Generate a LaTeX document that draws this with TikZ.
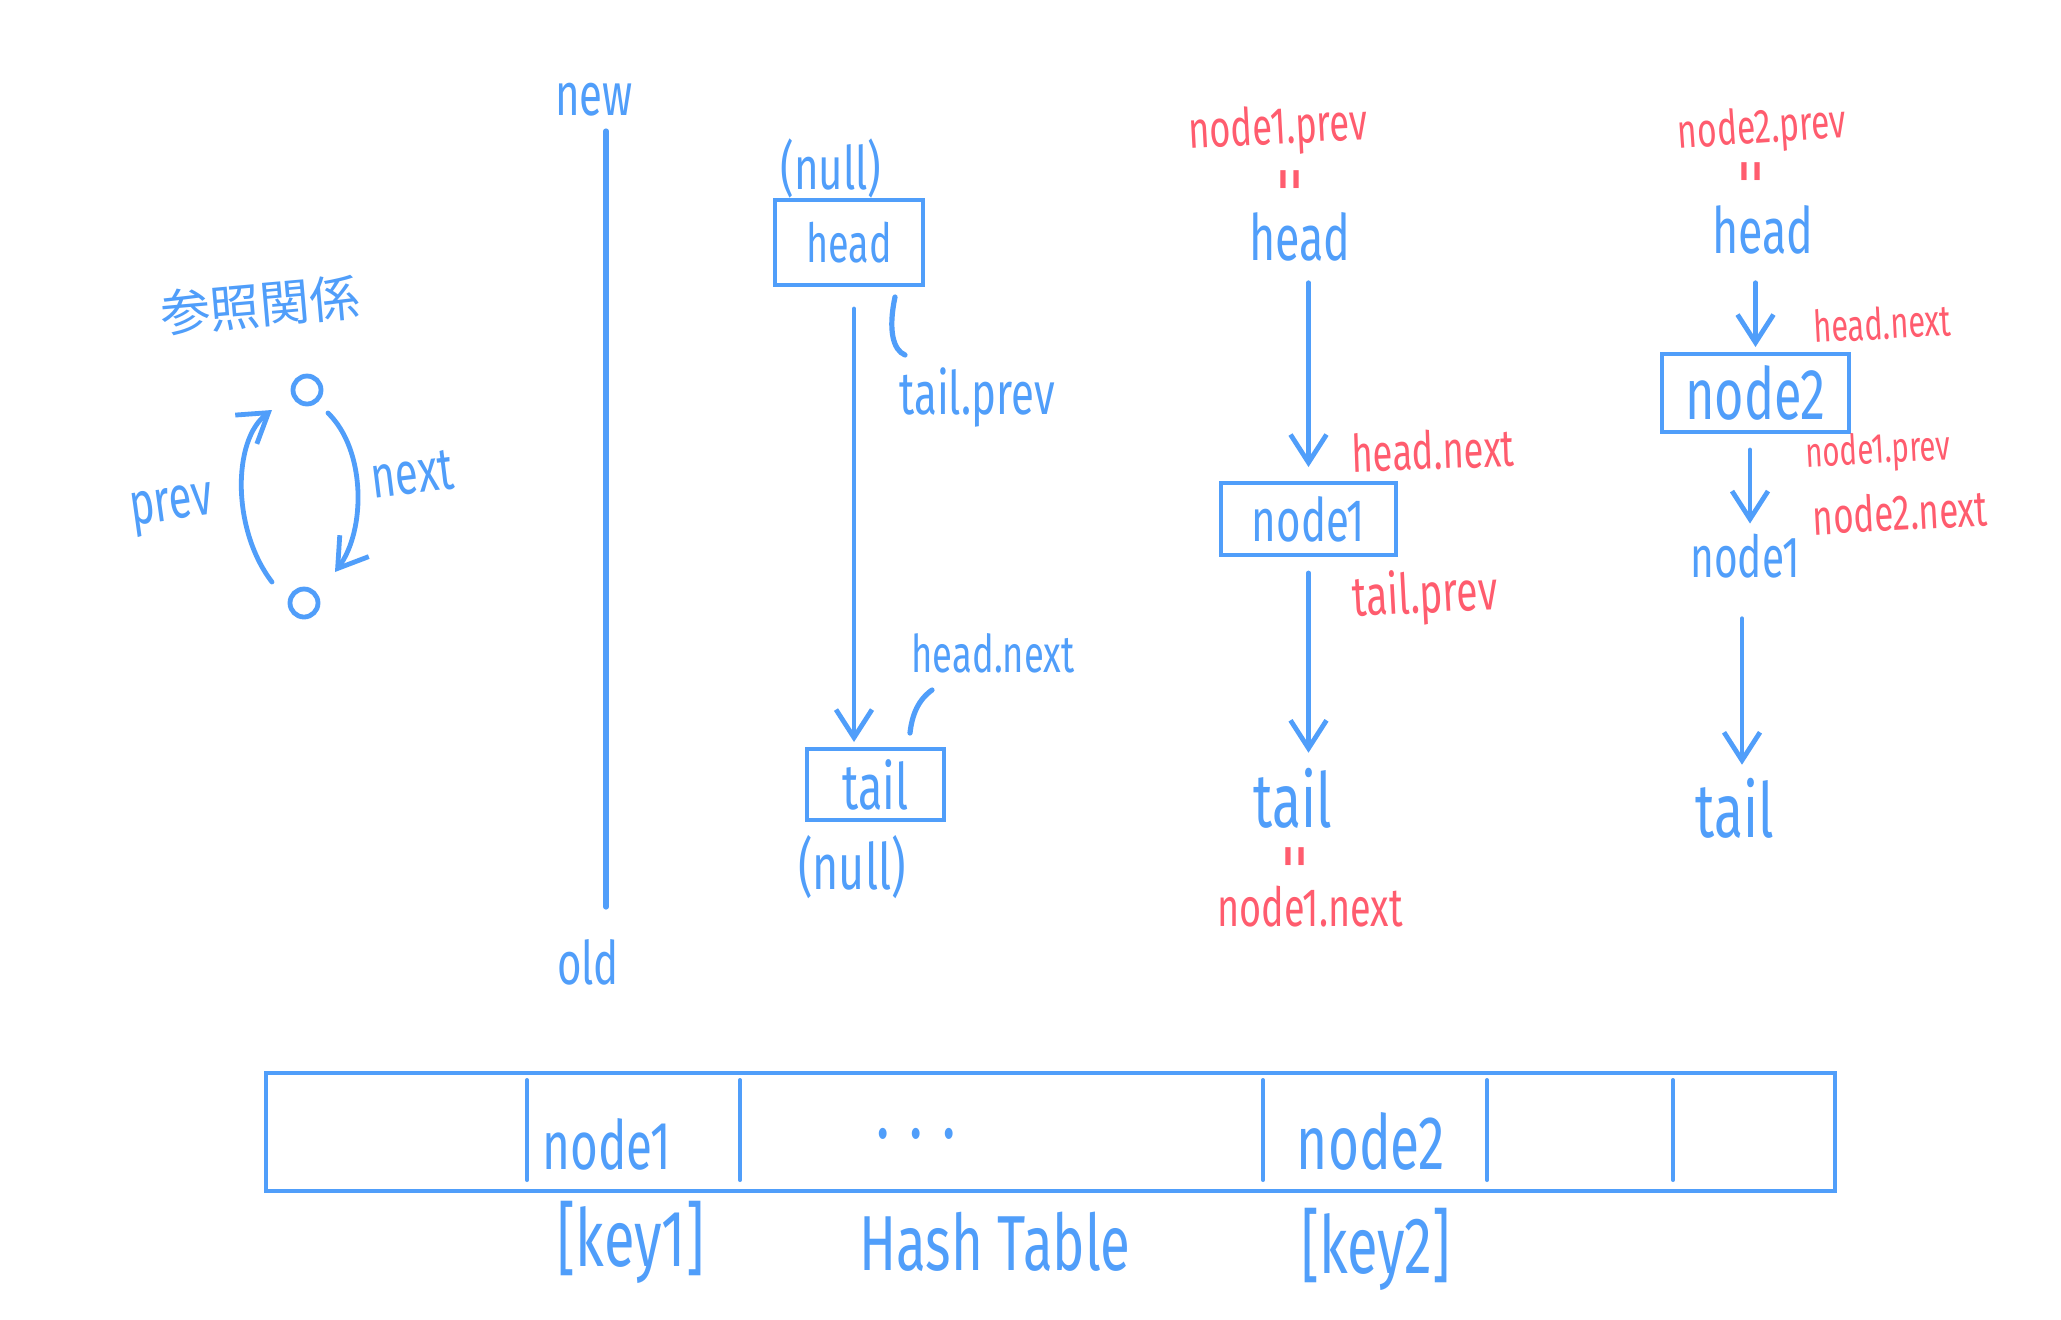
\documentclass[tikz,border=0pt]{standalone}
\usepackage{fontspec}
\usetikzlibrary{arrows.meta}
\newfontfamily\hand[FakeStretch=0.7]{Fira Sans}
\newfontfamily\jpfont{Noto Sans CJK JP}
\newcommand\myhf[1]{\hand\fontsize{#1}{#1}\selectfont}
\definecolor{hb}{RGB}{80,158,250}
\definecolor{hr}{RGB}{255,92,110}
\tikzset{
  every node/.style={inner sep=0pt, outer sep=0pt},
  bl/.style={text=hb},
  rd/.style={text=hr},
  ln/.style={draw=hb, line width=2.6pt, line cap=round},
  arr/.style={draw=hb, line width=2.4pt, line cap=round, line join=round,
    -{Straight Barb[length=14pt,width=18pt,line width=2.4pt]}},
  boxn/.style={draw=hb, line width=2.4pt, rectangle, text=hb, align=center},
  eqs/.style={text=hr, rotate=90, font=\myhf{34}},
}
\begin{document}
\begin{tikzpicture}[x=0.5pt,y=-0.5pt]
\useasboundingbox[fill=white] (0,0) rectangle (2061,1319);

% ---- reference relation legend ----
\node[bl, rotate=5, font=\jpfont\fontsize{25}{25}\selectfont] (jp) at (260,305) {参照関係};
\node[circle, draw=hb, line width=2.4pt, minimum size=14pt] (ctop) at (307,390) {};
\node[circle, draw=hb, line width=2.4pt, minimum size=14pt] (cbot) at (304,603) {};
\coordinate (pS) at (272,582);
\coordinate (pE) at (272,410);
\coordinate (nS) at (328,413);
\coordinate (nE) at (335,572);
\draw[arr] (pS) .. controls (232,530) and (232,440) .. (pE);
\draw[arr] (nS) .. controls (366,450) and (366,530) .. (nE);
\node[bl, rotate=8, font=\myhf{30}] (prevL) at (172,510) {prev};
\node[bl, rotate=7, font=\myhf{30}] (nextL) at (412,474) {next};

% ---- timeline ----
\node[bl, font=\myhf{30}] (new) at (594,100) {new};
\node[bl, font=\myhf{30}] (old) at (588,962) {old};
\coordinate (tlA) at (606,131);
\coordinate (tlB) at (606,907);
\draw[ln] (tlA) -- (tlB);

% ---- column 1 ----
\node[bl, font=\myhf{30}] (nulltop) at (831,168) {(null)};
\node[boxn, minimum width=74pt, minimum height=42.5pt, font=\myhf{27}] (headbox) at (849,242.5) {head};
\node[boxn, minimum width=68.5pt, minimum height=35.5pt, font=\myhf{32}] (tailbox) at (875.5,784.5) {tail};
\node[bl, font=\myhf{32}] (nullbot) at (852,867) {(null)};
\draw[arr, shorten <=12pt, shorten >=3.5pt] (headbox.south -| 854,0) -- (tailbox.north -| 854,0);
\node[bl, font=\myhf{30}] (tp1) at (977,397) {tail.prev};
\node[bl, font=\myhf{26}] (hn1) at (993,653) {head.next};
\draw[ln] (895,297) .. controls (888,330) and (893,350) .. (905,355);
\draw[ln] (932,690) .. controls (918,700) and (912,715) .. (910,733);

% ---- column 2 ----
\node[rd, rotate=3, font=\myhf{26}] (n1p) at (1278,130) {node1.prev};
\node[eqs] (eq1) at (1297,180) {=};
\node[bl, anchor=base, font=\myhf{32}] (head2) at (1300,260) {head};
\node[rd, rotate=2, font=\myhf{26}] (hn2) at (1433,450) {head.next};
\node[boxn, minimum width=87.5pt, minimum height=36pt, font=\myhf{30}] (n1box) at (1308.5,519) {node1};
\node[rd, rotate=3, font=\myhf{28}] (tp2) at (1425,597) {tail.prev};
\node[bl, anchor=base, font=\myhf{38}] (tail2) at (1293,827) {tail};
\node[eqs] (eq2) at (1302,857) {=};
\node[rd, font=\myhf{27}] (n1n) at (1310,907) {node1.next};
\draw[arr, shorten <=11pt, shorten >=8pt] (n1box.north |- head2.south) -- (n1box.north);
\draw[arr, shorten <=9pt, shorten >=7.5pt] (n1box.south) -- (n1box.south |- tail2.north);

% ---- column 3 ----
\node[rd, rotate=4, font=\myhf{24}] (n2p) at (1762,130) {node2.prev};
\node[eqs] (eq3) at (1758,172) {=};
\node[bl, anchor=base, font=\myhf{32}] (head3) at (1763,253) {head};
\node[rd, rotate=3, font=\myhf{22}] (hn3) at (1882,323) {head.next};
\node[boxn, minimum width=93.5pt, minimum height=39pt, font=\myhf{36}] (n2box) at (1755.5,393) {node2};
\node[rd, rotate=3, font=\myhf{21}] (n1p3) at (1878,452) {node1.prev};
\node[rd, rotate=3, font=\myhf{25}] (n2n) at (1900,512) {node2.next};
\node[bl, anchor=base, font=\myhf{29}] (n1c3) at (1745,577) {node1};
\node[bl, anchor=base, font=\myhf{38}] (tail3) at (1735,837) {tail};
\draw[arr, shorten <=14.5pt, shorten >=3.5pt] (n2box.north |- head3.south) -- (n2box.north);
\draw[arr, shorten <=9pt, shorten >=5pt] (n2box.south -| 1750,0) -- (n1c3.north -| 1750,0);
\draw[arr, shorten <=20.5pt, shorten >=6.5pt] (n1c3.south -| 1742,0) -- (tail3.north -| 1742,0);

% ---- hash table ----
\node[boxn, minimum width=784.5pt, minimum height=59pt] (ht) at (1050.5,1132) {};
\foreach \xx in {527,740,1263,1487,1673} {
  \draw[draw=hb, line width=2pt, line cap=round] (\xx,1080) -- (\xx,1180);
}
\node[bl, font=\myhf{34}] (htn1) at (607,1144) {node1};
\node[bl, font=\myhf{40}] (htdots) at (916,1134) {. . .};
\node[bl, font=\myhf{38}] (htn2) at (1371,1141) {node2};
\node[bl, font=\myhf{40}] (k1) at (631,1242) {[key1]};
\node[bl, font=\myhf{39}] (htl) at (995,1242) {Hash Table};
\node[bl, font=\myhf{40}] (k2) at (1376,1249) {[key2]};
\end{tikzpicture}
\end{document}
